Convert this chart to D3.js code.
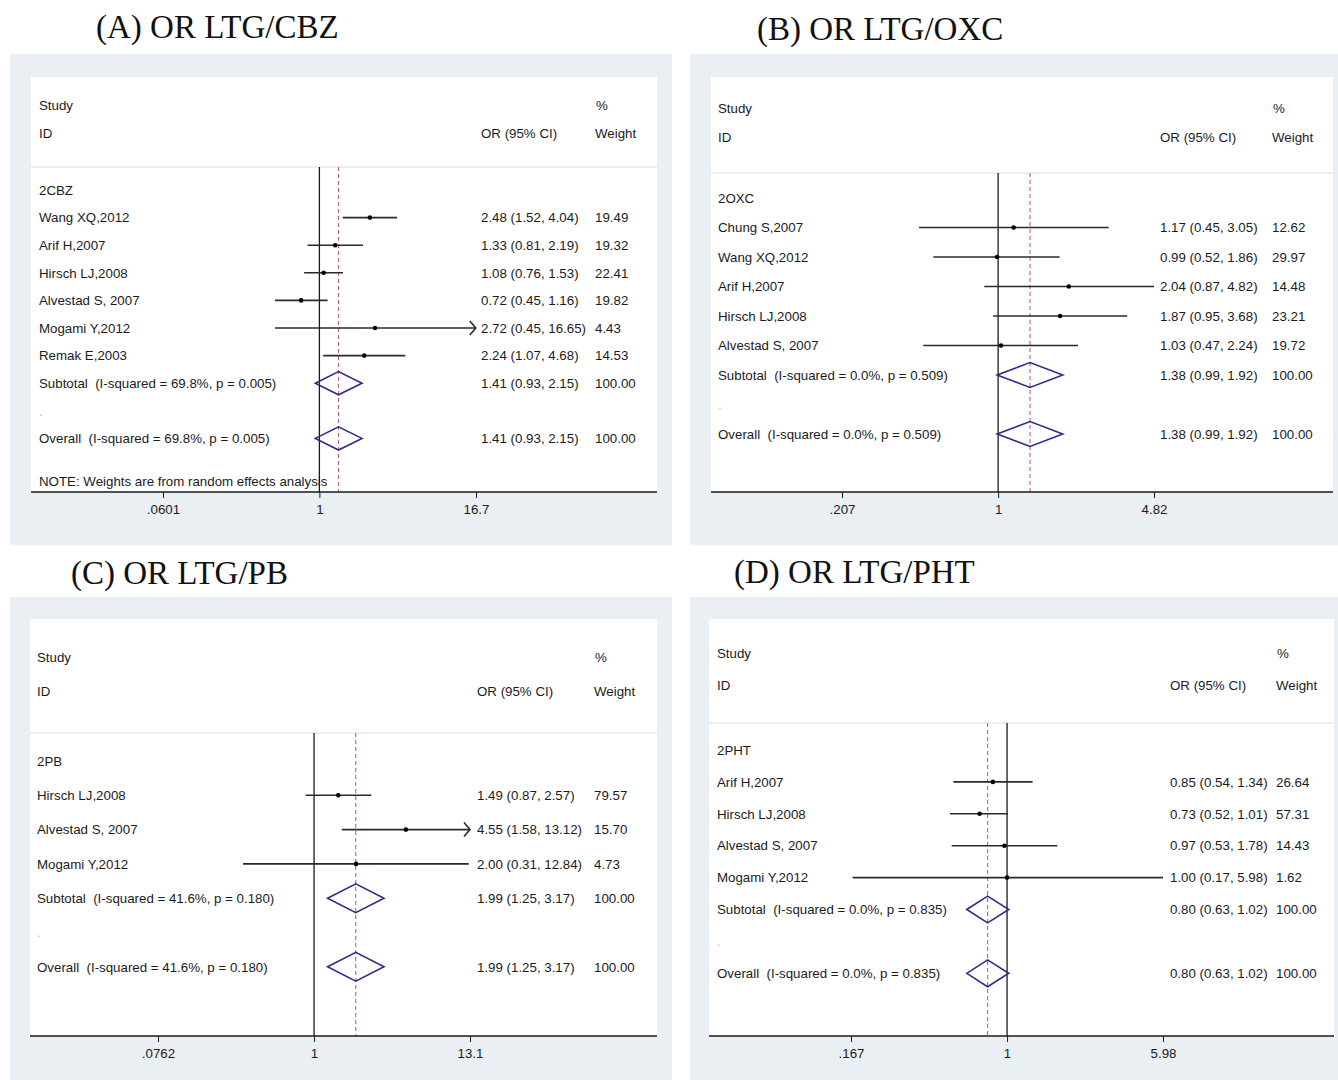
<!DOCTYPE html>
<html>
<head>
<meta charset="utf-8">
<script src="https://cdn.jsdelivr.net/npm/d3@7"></script>
<style>
  html, body { margin: 0; padding: 0; background: #ffffff; }
  svg { display: block; }
  text { font-family: "Liberation Sans", Arial, Helvetica, sans-serif; fill: #1b1b1b; }
  .title { font-family: "Liberation Serif", "Times New Roman", serif; font-size: 33px; fill: #111; }
</style>
</head>
<body>
<svg id="chart" width="1338" height="1080"></svg>
<script>
// ---- Forest plot data: lamotrigine (LTG) versus four comparators ----
const panelLetters = ["A", "B", "C", "D"];
const comparisons  = ["LTG/CBZ", "LTG/OXC", "LTG/PB", "LTG/PHT"];
const subgroupIds  = ["2CBZ", "2OXC", "2PB", "2PHT"];

const studiesCBZ = ["Wang XQ,2012", "Arif H,2007", "Hirsch LJ,2008", "Alvestad S, 2007", "Mogami Y,2012", "Remak E,2003"];
const orCBZ      = [2.48, 1.33, 1.08, 0.72, 2.72, 2.24];
const lowerCBZ   = [1.52, 0.81, 0.76, 0.45, 0.45, 1.07];
const upperCBZ   = [4.04, 2.19, 1.53, 1.16, 16.65, 4.68];
const weightCBZ  = [19.49, 19.32, 22.41, 19.82, 4.43, 14.53];

const studiesOXC = ["Chung S,2007", "Wang XQ,2012", "Arif H,2007", "Hirsch LJ,2008", "Alvestad S, 2007"];
const orOXC      = [1.17, 0.99, 2.04, 1.87, 1.03];
const lowerOXC   = [0.45, 0.52, 0.87, 0.95, 0.47];
const upperOXC   = [3.05, 1.86, 4.82, 3.68, 2.24];
const weightOXC  = [12.62, 29.97, 14.48, 23.21, 19.72];

const studiesPB = ["Hirsch LJ,2008", "Alvestad S, 2007", "Mogami Y,2012"];
const orPB      = [1.49, 4.55, 2.00];
const lowerPB   = [0.87, 1.58, 0.31];
const upperPB   = [2.57, 13.12, 12.84];
const weightPB  = [79.57, 15.70, 4.73];

const studiesPHT = ["Arif H,2007", "Hirsch LJ,2008", "Alvestad S, 2007", "Mogami Y,2012"];
const orPHT      = [0.85, 0.73, 0.97, 1.00];
const lowerPHT   = [0.54, 0.52, 0.53, 0.17];
const upperPHT   = [1.34, 1.01, 1.78, 5.98];
const weightPHT  = [26.64, 57.31, 14.43, 1.62];

// pooled (random effects) estimates and heterogeneity
const pooledOR    = [1.41, 1.38, 1.99, 0.80];
const pooledLower = [0.93, 0.99, 1.25, 0.63];
const pooledUpper = [2.15, 1.92, 3.17, 1.02];
const iSquared    = [69.8, 0.0, 41.6, 0.0];
const pHet        = [0.005, 0.509, 0.180, 0.835];

const axisTicks  = [[0.0601, 1, 16.7], [0.207, 1, 4.82], [0.0762, 1, 13.1], [0.167, 1, 5.98]];
const tickLabels = [[".0601", "1", "16.7"], [".207", "1", "4.82"], [".0762", "1", "13.1"], [".167", "1", "5.98"]];

const noteText = "NOTE: Weights are from random effects analysis";

// assemble per-panel study tables
const studyTables = [
  [studiesCBZ, orCBZ, lowerCBZ, upperCBZ, weightCBZ],
  [studiesOXC, orOXC, lowerOXC, upperOXC, weightOXC],
  [studiesPB, orPB, lowerPB, upperPB, weightPB],
  [studiesPHT, orPHT, lowerPHT, upperPHT, weightPHT]
].map(([names, or, lo, hi, w]) => names.map((n, i) => ({ name: n, or: or[i], lo: lo[i], hi: hi[i], w: w[i] })));

// ---- layout of the four graph panels ----
const layout = [
  { gx: 10,  gy: 54,  gw: 662, gh: 491, wx: 31,  wy: 77,  wr: 657,  axisY: 492,
    titleX: 96,  titleY: 38,  studyX: 39,  orX: 481,  wX: 595,  hStudy: 105, hId: 133, sepY: 167,
    row0: 190, step: 27.6, xr: [163, 476], note: true },
  { gx: 690, gy: 54,  gw: 648, gh: 491, wx: 711, wy: 77,  wr: 1333, axisY: 492,
    titleX: 757, titleY: 40,  studyX: 718, orX: 1160, wX: 1272, hStudy: 108, hId: 137, sepY: 173,
    row0: 198, step: 29.5, xr: [842, 1154], note: false },
  { gx: 10,  gy: 597, gw: 662, gh: 483, wx: 30,  wy: 619, wr: 657,  axisY: 1036,
    titleX: 71,  titleY: 584, studyX: 37,  orX: 477,  wX: 594,  hStudy: 657, hId: 691, sepY: 733,
    row0: 761, step: 34.3, xr: [158, 470], note: false },
  { gx: 690, gy: 597, gw: 648, gh: 483, wx: 709, wy: 619, wr: 1334, axisY: 1036,
    titleX: 734, titleY: 583, studyX: 717, orX: 1170, wX: 1276, hStudy: 653, hId: 685, sepY: 723,
    row0: 750, step: 31.9, xr: [851, 1163], note: false }
];

const FS = 13.3;   // body text size
const svg = d3.select("#chart");
const fmt2 = d3.format(".2f");
const fmt1 = d3.format(".1f");
const fmt3 = d3.format(".3f");
const ciText = (o, l, h) => `${fmt2(o)} (${fmt2(l)}, ${fmt2(h)})`;

layout.forEach((L, p) => {
  const g = svg.append("g");
  const rows = studyTables[p];
  const ticks = axisTicks[p];
  const x = d3.scaleLog().domain([ticks[0], ticks[2]]).range(L.xr);
  // CI limits beyond the displayed range are clipped and end in an arrow
  const clipHi = Math.min(ticks[2], 1 / ticks[0]);
  const clipLo = Math.max(ticks[0], 1 / ticks[2]);
  const rowY = k => L.row0 + k * L.step;
  const base = 4.7; // baseline offset for text centred on a row

  // graph region and plot region
  g.append("rect").attr("x", L.gx).attr("y", L.gy).attr("width", L.gw).attr("height", L.gh)
    .attr("fill", "#e9eff2");
  g.append("rect").attr("x", L.wx).attr("y", L.wy).attr("width", L.wr - L.wx).attr("height", L.axisY - L.wy)
    .attr("fill", "#ffffff");

  // panel title
  g.append("text").attr("class", "title").attr("x", L.titleX).attr("y", L.titleY)
    .text(`(${panelLetters[p]}) OR ${comparisons[p]}`);

  // column headers
  const hdr = g.append("g").attr("font-size", FS);
  hdr.append("text").attr("x", L.studyX).attr("y", L.hStudy + base).text("Study");
  hdr.append("text").attr("x", L.studyX).attr("y", L.hId + base).text("ID");
  hdr.append("text").attr("x", L.orX).attr("y", L.hId + base).text("OR (95% CI)");
  hdr.append("text").attr("x", L.wX + 1).attr("y", L.hStudy + base).text("%");
  hdr.append("text").attr("x", L.wX).attr("y", L.hId + base).text("Weight");

  g.append("line").attr("x1", L.wx).attr("x2", L.wr).attr("y1", L.sepY).attr("y2", L.sepY)
    .attr("stroke", "#d8dcde").attr("stroke-width", 1.2);

  // reference line at OR = 1 and dashed line at the pooled estimate
  g.append("line").attr("x1", x(1)).attr("x2", x(1)).attr("y1", L.sepY).attr("y2", L.axisY)
    .attr("stroke", "#1a1a1a").attr("stroke-width", 1.3);
  g.append("line").attr("x1", x(pooledOR[p])).attr("x2", x(pooledOR[p])).attr("y1", L.sepY).attr("y2", L.axisY)
    .attr("stroke", "#c0607a").attr("stroke-width", 1.1).attr("stroke-dasharray", "4,3");

  const txt = g.append("g").attr("font-size", FS);
  txt.append("text").attr("x", L.studyX).attr("y", rowY(0) + base).text(subgroupIds[p]);

  // individual studies
  const st = g.selectAll("g.study").data(rows).join("g").attr("class", "study");
  st.each(function (d, i) {
    const s = d3.select(this);
    const y = rowY(i + 1);
    const lo = Math.max(d.lo, clipLo), hi = Math.min(d.hi, clipHi);
    s.append("line").attr("x1", x(lo)).attr("x2", x(hi)).attr("y1", y).attr("y2", y)
      .attr("stroke", "#2a2a2a").attr("stroke-width", 1.6);
    if (d.hi > clipHi) {
      s.append("path")
        .attr("d", `M${x(clipHi) - 6},${y - 7}L${x(clipHi)},${y}L${x(clipHi) - 6},${y + 7}`)
        .attr("fill", "none").attr("stroke", "#2a2a2a").attr("stroke-width", 1.6);
    }
    s.append("circle").attr("cx", x(d.or)).attr("cy", y).attr("r", 2.3).attr("fill", "#000");
    s.append("text").attr("x", L.studyX).attr("y", y + base).attr("font-size", FS).text(d.name);
    s.append("text").attr("x", L.orX).attr("y", y + base).attr("font-size", FS).text(ciText(d.or, d.lo, d.hi));
    s.append("text").attr("x", L.wX).attr("y", y + base).attr("font-size", FS).text(fmt2(d.w));
  });

  // pooled estimates: subtotal and overall diamonds
  const het = `(I-squared = ${fmt1(iSquared[p])}%, p = ${fmt3(pHet[p])})`;
  const nS = rows.length;
  const summaries = [
    { label: `Subtotal  ${het}`, k: nS + 1 },
    { label: `Overall  ${het}`, k: nS + 3 }
  ];
  const half = L.step * 0.42;
  summaries.forEach(s => {
    const y = rowY(s.k);
    g.append("path")
      .attr("d", `M${x(pooledLower[p])},${y}L${x(pooledOR[p])},${y - half}L${x(pooledUpper[p])},${y}L${x(pooledOR[p])},${y + half}Z`)
      .attr("fill", "none").attr("stroke", "#2d2d88").attr("stroke-width", 1.6);
    txt.append("text").attr("x", L.studyX).attr("y", y + base).style("white-space", "pre").text(s.label);
    txt.append("text").attr("x", L.orX).attr("y", y + base).text(ciText(pooledOR[p], pooledLower[p], pooledUpper[p]));
    txt.append("text").attr("x", L.wX).attr("y", y + base).text(fmt2(100));
  });
  txt.append("text").attr("x", L.studyX).attr("y", rowY(nS + 2) + base).style("fill", "#bbbbbb").text(".");

  if (L.note) {
    txt.append("text").attr("x", L.studyX).attr("y", rowY(nS + 3) + 43 + base).text(noteText);
  }

  // log-scale x axis along the bottom of the plot region
  g.append("line").attr("x1", L.wx).attr("x2", L.wr).attr("y1", L.axisY).attr("y2", L.axisY)
    .attr("stroke", "#1a1a1a").attr("stroke-width", 1.3);
  const ax = g.append("g").attr("transform", `translate(0,${L.axisY})`)
    .call(d3.axisBottom(x).tickValues(ticks).tickFormat((d, i) => tickLabels[p][i]).tickSize(6).tickPadding(7));
  ax.select(".domain").remove();
  ax.selectAll(".tick line").attr("stroke", "#1a1a1a").attr("stroke-width", 1);
  ax.selectAll(".tick text").attr("font-size", FS).attr("font-family", "Liberation Sans, Arial, sans-serif")
    .attr("fill", "#1b1b1b");
});
</script>
</body>
</html>
